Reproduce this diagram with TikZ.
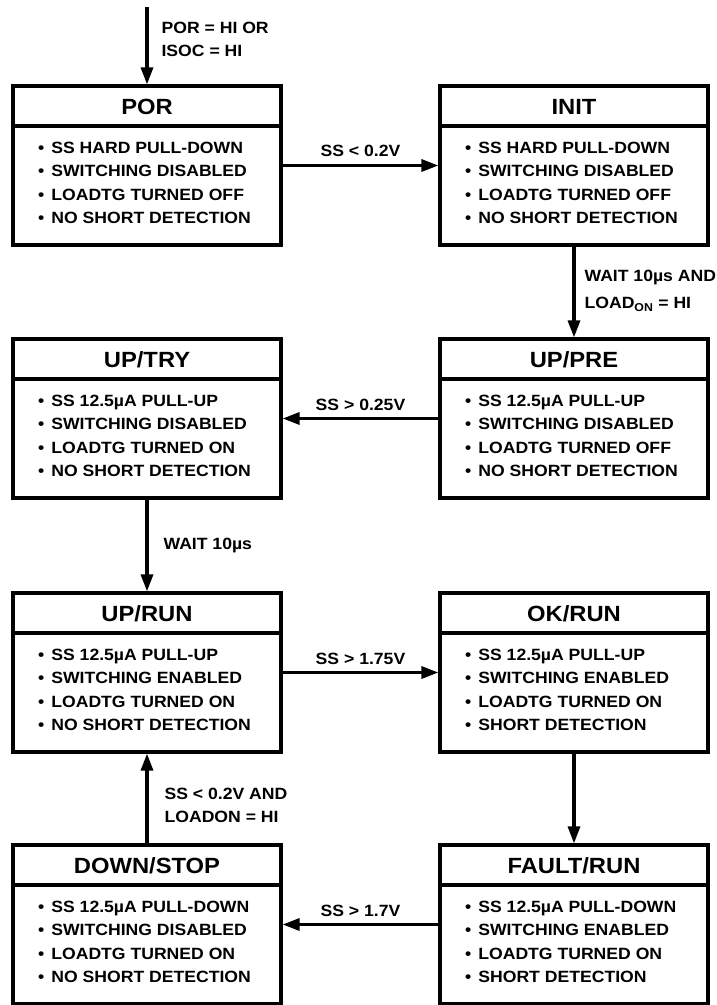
\documentclass[tikz,border=0pt]{standalone}
\usepackage{fontspec}
\setmainfont{Liberation Sans}[FakeStretch=1.08]
\usetikzlibrary{arrows.meta}
\newcommand\stnode[5]{%
  \node[stbox] (#1) at (#2,#3+79.5) {};
  \draw[divline] (#2-134,#3+40) -- (#2+134,#3+40);
  \node[sttitle] (#1t) at (#2,#3+20.5) {#4};
  \node[stbody] (#1b) at (#2-109,#3+56) {#5};
}
\begin{document}
\begin{tikzpicture}[x=1pt,y=-1pt,
  stbox/.style={draw, line width=3.2pt, minimum width=268pt, minimum height=159pt, inner sep=0pt},
  divline/.style={line width=3.2pt},
  sttitle/.style={font=\fontsize{22}{22}\selectfont\bfseries, inner sep=0pt},
  stbody/.style={font=\fontsize{16.3}{23.4}\selectfont\bfseries, align=left, anchor=north west, inner sep=0pt},
  conn/.style={line width=3.2pt, -{Triangle[length=17pt,width=12pt]}},
  lbl/.style={font=\fontsize{16.3}{23}\selectfont\bfseries, inner sep=0pt, align=left}
]
\useasboundingbox (0,0) rectangle (717,1005);

\stnode{por}{147}{86}{POR}{•\hspace{7pt}SS HARD PULL-DOWN\\•\hspace{7pt}SWITCHING DISABLED\\•\hspace{7pt}LOADTG TURNED OFF\\•\hspace{7pt}NO SHORT DETECTION}
\stnode{init}{574}{86}{INIT}{•\hspace{7pt}SS HARD PULL-DOWN\\•\hspace{7pt}SWITCHING DISABLED\\•\hspace{7pt}LOADTG TURNED OFF\\•\hspace{7pt}NO SHORT DETECTION}
\stnode{uptry}{147}{339}{UP/TRY}{•\hspace{7pt}SS 12.5µA PULL-UP\\•\hspace{7pt}SWITCHING DISABLED\\•\hspace{7pt}LOADTG TURNED ON\\•\hspace{7pt}NO SHORT DETECTION}
\stnode{uppre}{574}{339}{UP/PRE}{•\hspace{7pt}SS 12.5µA PULL-UP\\•\hspace{7pt}SWITCHING DISABLED\\•\hspace{7pt}LOADTG TURNED OFF\\•\hspace{7pt}NO SHORT DETECTION}
\stnode{uprun}{147}{593}{UP/RUN}{•\hspace{7pt}SS 12.5µA PULL-UP\\•\hspace{7pt}SWITCHING ENABLED\\•\hspace{7pt}LOADTG TURNED ON\\•\hspace{7pt}NO SHORT DETECTION}
\stnode{okrun}{574}{593}{OK/RUN}{•\hspace{7pt}SS 12.5µA PULL-UP\\•\hspace{7pt}SWITCHING ENABLED\\•\hspace{7pt}LOADTG TURNED ON\\•\hspace{7pt}SHORT DETECTION}
\stnode{downstop}{147}{845}{DOWN/STOP}{•\hspace{7pt}SS 12.5µA PULL-DOWN\\•\hspace{7pt}SWITCHING DISABLED\\•\hspace{7pt}LOADTG TURNED ON\\•\hspace{7pt}NO SHORT DETECTION}
\stnode{faultrun}{574}{845}{FAULT/RUN}{•\hspace{7pt}SS 12.5µA PULL-DOWN\\•\hspace{7pt}SWITCHING ENABLED\\•\hspace{7pt}LOADTG TURNED ON\\•\hspace{7pt}SHORT DETECTION}

\coordinate (start) at (147,7);
\draw[conn] (start) -- (por.north)
  node[lbl, midway, anchor=west, xshift=13pt, yshift=6pt] {POR = HI OR\\ISOC = HI};
\draw[conn] (por.east) -- (init.west)
  node[lbl, midway, yshift=15pt] {SS < 0.2V};
\draw[conn] (init.south) -- (uppre.north)
  node[lbl, midway, anchor=west, xshift=9pt, yshift=1pt] {WAIT 10µs AND\\[4pt]LOAD\textsubscript{ON} = HI};
\draw[conn] (uppre.west) -- (uptry.east)
  node[lbl, midway, yshift=14pt] {SS > 0.25V};
\draw[conn] (uptry.south) -- (uprun.north)
  node[lbl, midway, anchor=west, xshift=15pt] {WAIT 10µs};
\draw[conn] (uprun.east) -- (okrun.west)
  node[lbl, midway, yshift=14pt] {SS > 1.75V};
\draw[conn] (okrun.south) -- (faultrun.north);
\draw[conn] (faultrun.west) -- (downstop.east)
  node[lbl, midway, yshift=14pt] {SS > 1.7V};
\draw[conn] (downstop.north) -- (uprun.south)
  node[lbl, midway, anchor=west, xshift=16pt, yshift=-7pt] {SS < 0.2V AND\\LOADON = HI};
\end{tikzpicture}
\end{document}
